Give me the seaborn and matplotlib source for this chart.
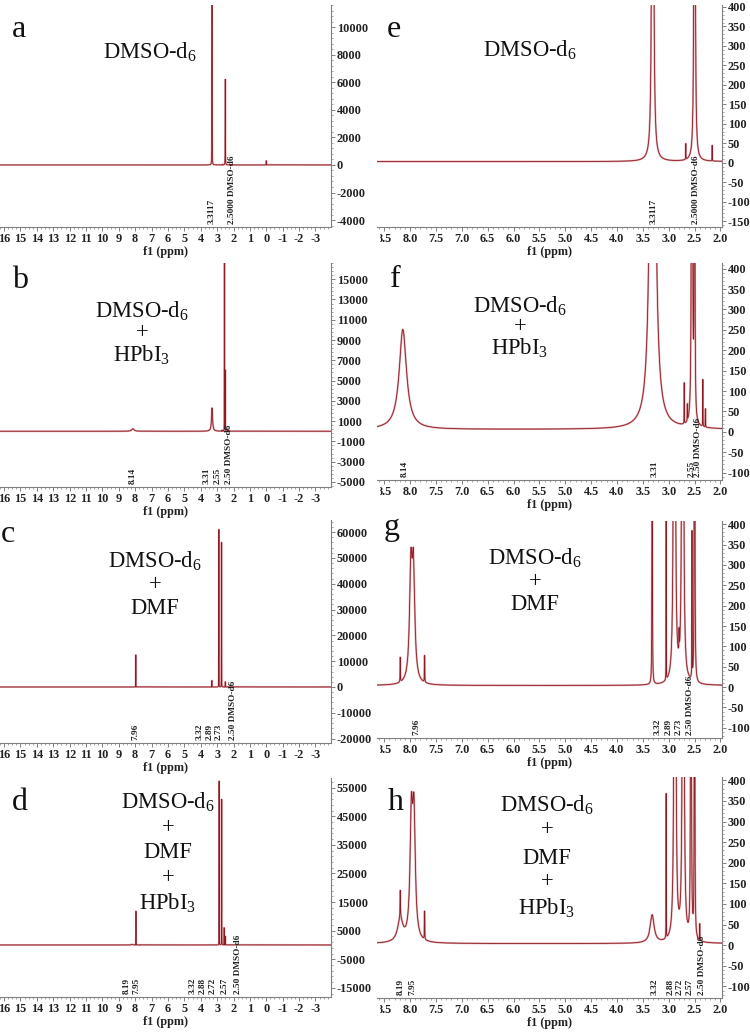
import numpy as np
import pandas as pd
import matplotlib
matplotlib.use('Agg')
import matplotlib.pyplot as plt
import matplotlib.transforms as mtransforms
from matplotlib.ticker import MultipleLocator, AutoMinorLocator
import seaborn as sns

# ---- peak tables: position (ppm), height, half width (ppm)
# DMSO-d6 alone (panels a, e)
dmso_pos = [3.31, 2.50, 2.67, 2.16, 0.00]
dmso_hgt = [13000, 6200, 40, 40, 300]
dmso_wid = [0.005, 0.005, 0.002, 0.002, 0.005]

# DMSO-d6 + HPbI3 (panels b, f)
hpbi_pos = [8.14, 3.31, 2.55, 2.50, 2.70, 2.64, 2.34, 2.29]
hpbi_hgt = [245, 2300, 18000, 6000, 100, 40, 115, 45]
hpbi_wid = [0.085, 0.037, 0.0025, 0.0025, 0.002, 0.002, 0.002, 0.002]

# DMSO-d6 + DMF, full range (panel c)
dmf_pos = [7.96, 3.32, 2.89, 2.73, 2.50]
dmf_hgt = [12400, 2500, 61000, 56000, 2000]
dmf_wid = [0.002, 0.002, 0.0022, 0.0022, 0.003]

# DMSO-d6 + DMF, expanded (panel g)
dmfz_pos = [8.19, 7.985, 7.935, 7.72, 3.32, 3.05, 2.89, 2.80, 2.73, 2.55, 2.50]
dmfz_hgt = [60, 265, 265, 65, 3000, 400, 61000, 50, 56000, 355, 4000]
dmfz_wid = [0.003, 0.03, 0.03, 0.003, 0.002, 0.0015, 0.0022, 0.003, 0.0022, 0.002, 0.003]

# DMSO-d6 + DMF + HPbI3, full range (panel d)
mix_pos = [8.19, 7.95, 7.72, 3.32, 2.88, 2.72, 2.57, 2.50]
mix_hgt = [200, 11800, 70, 70, 57300, 50900, 6000, 3000]
mix_wid = [0.05, 0.002, 0.003, 0.045, 0.0022, 0.0022, 0.003, 0.003]

# DMSO-d6 + DMF + HPbI3, expanded (panel h)
mixz_pos = [8.19, 8.19, 7.975, 7.925, 7.72, 3.32, 3.05, 2.88, 2.72, 2.57, 2.50, 2.40]
mixz_hgt = [55, 65, 285, 285, 68, 68, 350, 57000, 51000, 6000, 3000, 40]
mixz_wid = [0.06, 0.004, 0.03, 0.03, 0.003, 0.045, 0.0015, 0.0022, 0.0022, 0.003, 0.003, 0.003]

baselines = {'a': 0, 'b': 0, 'c': 0, 'd': 0, 'e': 3, 'f': 6, 'g': 4, 'h': 4}

# peak-pick labels: text and x (ppm) where the label sits
labels_a = (['3.3117', '2.5000 DMSO-d6'], [3.31, 2.10])
labels_b = (['8.14', '3.31', '2.55', '2.50 DMSO-d6'], [8.13, 3.62, 2.95, 2.28])
labels_c = (['7.96', '3.32', '2.89', '2.73', '2.50 DMSO-d6'], [8.0, 4.05, 3.45, 2.92, 2.05])
labels_d = (['8.19', '7.95', '3.32', '2.88', '2.72', '2.57', '2.50 DMSO-d6'],
            [8.5, 7.9, 4.47, 3.86, 3.25, 2.52, 1.73])
labels_e = (['3.3117', '2.5000 DMSO-d6'], [3.29, 2.48])
labels_f = (['8.14', '3.31', '2.55', '2.50 DMSO-d6'], [8.10, 3.27, 2.56, 2.44])
labels_g = (['7.96', '3.32', '2.89', '2.73', '2.50 DMSO-d6'], [7.88, 3.22, 3.01, 2.80, 2.58])
labels_h = (['8.19', '7.95', '3.32', '2.88', '2.72', '2.57', '2.50 DMSO-d6'],
            [8.18, 7.95, 3.27, 2.97, 2.79, 2.59, 2.35])

titles = {
    'a': ['DMSO-d$_6$'], 'e': ['DMSO-d$_6$'],
    'b': ['DMSO-d$_6$', '+', 'HPbI$_3$'], 'f': ['DMSO-d$_6$', '+', 'HPbI$_3$'],
    'c': ['DMSO-d$_6$', '+', 'DMF'], 'g': ['DMSO-d$_6$', '+', 'DMF'],
    'd': ['DMSO-d$_6$', '+', 'DMF', '+', 'HPbI$_3$'], 'h': ['DMSO-d$_6$', '+', 'DMF', '+', 'HPbI$_3$'],
}

sns.set_theme(style='white')
plt.rcParams['font.family'] = ['Liberation Serif', 'DejaVu Serif']
plt.rcParams['mathtext.fontset'] = 'custom'
plt.rcParams['mathtext.rm'] = 'Liberation Serif'
plt.rcParams['mathtext.it'] = 'Liberation Serif:italic'
plt.rcParams['axes.unicode_minus'] = False

W, H = 750, 1032
fig = plt.figure(figsize=(W / 100, H / 100), dpi=100)


def box(x0, x1, top, bottom):
    return [x0 / W, 1 - bottom / H, (x1 - x0) / W, (bottom - top) / H]


def spectrum(pos, hgt, wid, lo, hi, base):
    x = np.arange(lo, hi, 0.002)
    fine = [np.arange(p - 0.06, p + 0.06, 0.0002) for p in pos]
    x = np.unique(np.concatenate([x] + fine + [np.array(pos)]))
    x = x[(x >= lo) & (x <= hi)]
    y = np.full_like(x, float(base))
    for p, h, w in zip(pos, hgt, wid):
        y += h * w ** 2 / ((x - p) ** 2 + w ** 2)
    return pd.DataFrame({'ppm': x, 'intensity': y})


panels = [
    # key, data, x-range, box, ylim, y major step, first y tick, labels
    ('a', (dmso_pos, dmso_hgt, dmso_wid), 'full', (5, 227), (-4500, 11600), 2000, -4000, labels_a),
    ('b', (hpbi_pos, hpbi_hgt, hpbi_wid), 'full', (263, 487), (-5500, 16600), 2000, -5000, labels_b),
    ('c', (dmf_pos, dmf_hgt, dmf_wid), 'full', (520, 743), (-21700, 64700), 10000, -20000, labels_c),
    ('d', (mix_pos, mix_hgt, mix_wid), 'full', (778, 997), (-18200, 58400), 10000, -15000, labels_d),
    ('e', (dmso_pos, dmso_hgt, dmso_wid), 'zoom', (5, 227), (-165, 405), 50, -150, labels_e),
    ('f', (hpbi_pos, hpbi_hgt, hpbi_wid), 'zoom', (263, 480), (-118, 414), 50, -100, labels_f),
    ('g', (dmfz_pos, dmfz_hgt, dmfz_wid), 'zoom', (521, 738), (-125, 408), 50, -100, labels_g),
    ('h', (mixz_pos, mixz_hgt, mixz_wid), 'zoom', (777, 998), (-128, 408), 50, -100, labels_h),
]

# panel letter (left x, baseline y) and annotation (centre x, line centre y offsets from axes top)
letter_xy = {'a': (12, 37), 'b': (12, 288), 'c': (1, 542), 'd': (12, 810),
             'e': (387, 37), 'f': (390, 287), 'g': (384, 535), 'h': (388, 810)}
title_x = {'a': 150, 'b': 142, 'c': 155, 'd': 168, 'e': 530, 'f': 520, 'g': 535, 'h': 547}
title_dy = {'a': [47], 'e': [45],
            'b': [48, 70, 92], 'f': [43, 64, 85],
            'c': [41, 65, 88], 'g': [37, 61, 84],
            'd': [24, 50, 74, 100, 125], 'h': [28, 53, 81, 105, 131]}

tick_font = dict(family='Liberation Serif', weight='bold', size=8.8)
grey = '#808080'

for key, (pos, hgt, wid), kind, (top, bottom), ylim, ystep, ystart, (ltxt, lx) in panels:
    if kind == 'full':
        ax = fig.add_axes(box(0, 331, top, bottom))
        xlim = (16.25, -3.95)
        xmaj, xminor = 1, 4
    else:
        ax = fig.add_axes(box(377, 722, top, bottom))
        xlim = (8.64, 1.97)
        xmaj, xminor = 0.5, 5

    df = spectrum(pos, hgt, wid, xlim[1] - 0.05, xlim[0] + 0.05, baselines[key])
    sns.lineplot(data=df, x='ppm', y='intensity', ax=ax, color='#dfa9ac', lw=1.4,
                 estimator=None, sort=False)
    sns.lineplot(data=df, x='ppm', y='intensity', ax=ax, color='#8e1b24', lw=0.6,
                 estimator=None, sort=False)

    ax.set_xlim(*xlim)
    ax.set_ylim(*ylim)
    ax.set_facecolor('none')
    ax.yaxis.tick_right()
    ax.set_ylabel('')
    ax.set_yticks(np.arange(ystart, ylim[1], ystep))
    ax.xaxis.set_major_locator(MultipleLocator(xmaj))
    ax.xaxis.set_minor_locator(AutoMinorLocator(xminor))
    ax.yaxis.set_minor_locator(AutoMinorLocator(5))
    for s in ['top', 'left']:
        ax.spines[s].set_visible(False)
    for s in ['right', 'bottom']:
        ax.spines[s].set_color(grey)
        ax.spines[s].set_linewidth(0.8)
    ax.tick_params(which='major', length=3, width=0.7, color=grey, pad=1)
    ax.tick_params(which='minor', length=1.6, width=0.5, color=grey)
    ax.tick_params(axis='y', which='both', left=False, right=True, direction='out')
    ax.tick_params(axis='x', which='both', bottom=True, direction='out')
    if kind == 'full':
        xt = np.arange(16, -3.5, -1)
        ax.set_xticks(xt)
        ax.set_xticklabels([f'{v:g}' for v in xt])
    else:
        xt = np.arange(8.5, 1.9, -0.5)
        ax.set_xticks(xt)
        ax.set_xticklabels([f'{v:.1f}' for v in xt])
    for t in ax.get_xticklabels() + ax.get_yticklabels():
        t.set_fontfamily('Liberation Serif')
        t.set_fontweight('bold')
        t.set_fontsize(8.8)
        t.set_color('#222222')
    ax.set_xlabel('f1 (ppm)', fontdict=tick_font, color='#222222', labelpad=1)

    # peak-pick labels along the bottom
    trans = mtransforms.blended_transform_factory(ax.transData, ax.transAxes)
    for txt, x in zip(ltxt, lx):
        ax.text(x, 0.012, txt, transform=trans, rotation=90, ha='center', va='bottom',
                family='Liberation Serif', weight='bold', size=6.7, color='#222222')

    # panel letter and sample annotation
    lxp, lyp = letter_xy[key]
    fig.text(lxp / W, 1 - lyp / H, key, family='Liberation Serif', size=23,
             ha='left', va='baseline', color='#111111')
    for txt, dy in zip(titles[key], title_dy[key]):
        fig.text(title_x[key] / W, 1 - (top + dy) / H, txt, family='Liberation Serif',
                 size=16.3, ha='center', va='center', color='#111111')

# the right-hand spectra are cropped at their left edge, cutting the first tick label
for bottom in [227, 480, 738, 998]:
    fig.patches.append(plt.Rectangle((369 / W, 1 - (bottom + 17) / H), 9.5 / W, 11 / H,
                                     transform=fig.transFigure, color='white', zorder=10))

fig.savefig('out.png', dpi=100)
